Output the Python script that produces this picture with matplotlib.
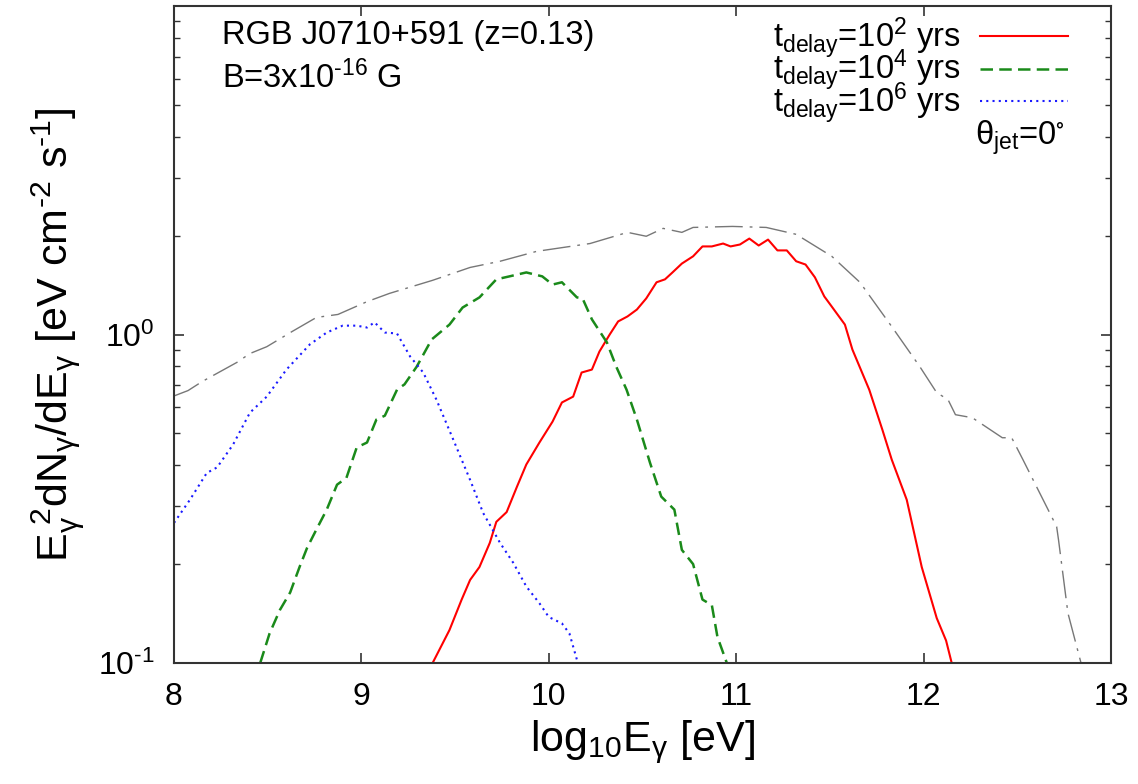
import matplotlib
matplotlib.use('Agg')
import matplotlib.pyplot as plt
from matplotlib.ticker import LogLocator, FixedFormatter, NullFormatter, FixedLocator

plt.rcParams['font.family'] = ['Liberation Sans', 'DejaVu Sans']
plt.rcParams['mathtext.fontset'] = 'custom'
plt.rcParams['mathtext.rm'] = 'Liberation Sans'
plt.rcParams['mathtext.it'] = 'Liberation Sans'
plt.rcParams['mathtext.default'] = 'regular'
plt.rcParams['axes.unicode_minus'] = False

# total (dash-dot, grey)
x_tot = [8.0, 8.075, 8.15, 8.335, 8.405, 8.495, 8.63, 8.76, 8.875, 9.03, 9.15, 9.38, 9.58,
         9.74, 9.935, 10.22, 10.42, 10.52, 10.61, 10.71, 10.77, 10.98, 11.16, 11.32, 11.51,
         11.66, 11.83, 11.98, 12.07, 12.13, 12.17, 12.26, 12.42, 12.47, 12.53, 12.71, 12.72,
         12.77, 12.84]
y_tot = [0.650, 0.675, 0.719, 0.822, 0.875, 0.918, 1.021, 1.127, 1.151, 1.259, 1.334, 1.462, 1.600,
         1.671, 1.791, 1.892, 2.046, 1.991, 2.104, 2.046, 2.118, 2.133, 2.118, 2.018, 1.730,
         1.442, 1.057, 0.798, 0.665, 0.634, 0.570, 0.558, 0.485, 0.485, 0.416, 0.260, 0.237,
         0.142, 0.100]

# t_delay = 1e2 yrs
x_1e2 = [9.38, 9.47, 9.535, 9.58, 9.63, 9.685, 9.72, 9.775, 9.83, 9.88, 9.95, 10.02, 10.07,
         10.13, 10.175, 10.23, 10.27, 10.325, 10.37, 10.42, 10.47, 10.52, 10.575, 10.62, 10.66,
         10.71, 10.77, 10.82, 10.87, 10.93, 10.97, 11.02, 11.07, 11.12, 11.17, 11.22, 11.27,
         11.32, 11.37, 11.42, 11.47, 11.51, 11.58, 11.62, 11.71, 11.78, 11.83, 11.91, 11.99,
         12.07, 12.12, 12.15]
y_1e2 = [0.100, 0.126, 0.156, 0.179, 0.196, 0.232, 0.269, 0.288, 0.344, 0.402, 0.469, 0.543, 0.621,
         0.647, 0.766, 0.782, 0.887, 1.0, 1.096, 1.135, 1.191, 1.288, 1.442, 1.472, 1.545,
         1.644, 1.730, 1.854, 1.854, 1.892, 1.854, 1.879, 1.959, 1.866, 1.945, 1.803, 1.803,
         1.671, 1.633, 1.493, 1.306, 1.216, 1.072, 0.900, 0.679, 0.513, 0.416, 0.314, 0.196,
         0.137, 0.117, 0.100]

# t_delay = 1e4 yrs
x_1e4 = [8.46, 8.51, 8.565, 8.62, 8.67, 8.71, 8.76, 8.815, 8.87, 8.92, 8.975, 9.03, 9.08,
         9.125, 9.19, 9.23, 9.295, 9.375, 9.47, 9.54, 9.63, 9.72, 9.79, 9.88, 9.965, 10.02,
         10.07, 10.15, 10.18, 10.23, 10.31, 10.36, 10.415, 10.47, 10.54, 10.60, 10.67, 10.71,
         10.77, 10.82, 10.87, 10.90, 10.95]
y_1e4 = [0.100, 0.123, 0.145, 0.164, 0.196, 0.224, 0.255, 0.293, 0.349, 0.366, 0.453, 0.469, 0.551,
         0.566, 0.679, 0.705, 0.798, 0.966, 1.072, 1.208, 1.297, 1.472, 1.503, 1.545, 1.503, 1.419,
         1.442, 1.297, 1.288, 1.112, 0.946, 0.798, 0.679, 0.551, 0.407, 0.321, 0.293, 0.221,
         0.200, 0.156, 0.150, 0.120, 0.100]

# t_delay = 1e6 yrs
x_1e6 = [8.0, 8.085, 8.175, 8.23, 8.315, 8.405, 8.495, 8.6, 8.725, 8.815, 8.9, 8.975, 9.03,
         9.07, 9.125, 9.19, 9.26, 9.33, 9.40, 9.49, 9.58, 9.65, 9.74, 9.81, 9.88, 9.95, 10.0,
         10.07, 10.11, 10.155]
y_1e6 = [0.267, 0.314, 0.379, 0.394, 0.462, 0.578, 0.647, 0.782, 0.933, 1.014, 1.064, 1.064, 1.050,
         1.089, 1.014, 1.007, 0.857, 0.766, 0.634, 0.479, 0.361, 0.286, 0.232, 0.202, 0.171, 0.152, 0.138,
         0.132, 0.123, 0.100]

labels = [r'$t_{delay}$=10$^{2}$ yrs', r'$t_{delay}$=10$^{4}$ yrs', r'$t_{delay}$=10$^{6}$ yrs']
yticks = [0.1, 1]
yticklabels = [r'10$^{\text{-}1}$', r'10$^{0}$']
xticks = [8, 9, 10, 11, 12, 13]

fig = plt.figure(figsize=(11.38, 7.84), dpi=100)
ax = fig.add_axes([174/1138, 121/784, 937/1138, 657/784])

ax.plot(x_1e2, y_1e2, color='#ff0000', lw=1.5, label=labels[0])
ax.plot(x_1e4, y_1e4, color='#1a8a1a', lw=1.8, dashes=(5, 2.5), label=labels[1])
ax.plot(x_1e6, y_1e6, color='#1a1aff', lw=1.5, dashes=(1, 2), label=labels[2])
ax.plot(x_tot, y_tot, color='#777777', lw=1.0, dashes=(20, 5, 2, 5))

ax.set_yscale('log')
ax.set_xlim(8, 13)
ax.set_ylim(0.1, 10)
ax.xaxis.set_major_locator(FixedLocator(xticks))
ax.yaxis.set_major_locator(FixedLocator(yticks))
ax.yaxis.set_major_formatter(FixedFormatter(yticklabels))
ax.yaxis.set_minor_locator(LogLocator(base=10, subs=range(2, 10)))
ax.yaxis.set_minor_formatter(NullFormatter())
ax.tick_params(which='both', direction='in', top=True, right=True, labelsize=23, colors='#333333',
               labelcolor='black')
ax.tick_params(which='major', length=7, width=1.2, pad=14)
ax.tick_params(which='minor', length=4, width=1.0)
for s in ax.spines.values():
    s.set_linewidth(1.5)
    s.set_color('#333333')

ax.set_xlabel(r'log$_{10}$E$_{\gamma}$ [eV]', fontsize=31, labelpad=4)
ax.set_ylabel(r'E$_{\gamma}^{\ 2}$dN$_{\gamma}$/dE$_{\gamma}$ [eV cm$^{\text{-}2}$ s$^{\text{-}1}$]',
              fontsize=31, labelpad=8)

ax.text(0.051, 0.955, 'RGB J0710+591 (z=0.13)', transform=ax.transAxes, fontsize=23.5, va='center')
ax.text(0.051, 0.89, r'B=3x10$^{\text{-}16}$ G', transform=ax.transAxes, fontsize=23.5, va='center')
ax.text(0.951, 0.80, r'$\theta_{jet}$=0$^{\circ}$', transform=ax.transAxes, fontsize=23.5,
        va='center', ha='right')

ax.legend(loc='upper right', bbox_to_anchor=(0.965, 1.0), frameon=False, markerfirst=False,
          fontsize=23.5, handlelength=2.7, handletextpad=0.6, labelspacing=-0.38, borderpad=0.1,
          borderaxespad=0.2)

fig.savefig('out.png', dpi=100)
